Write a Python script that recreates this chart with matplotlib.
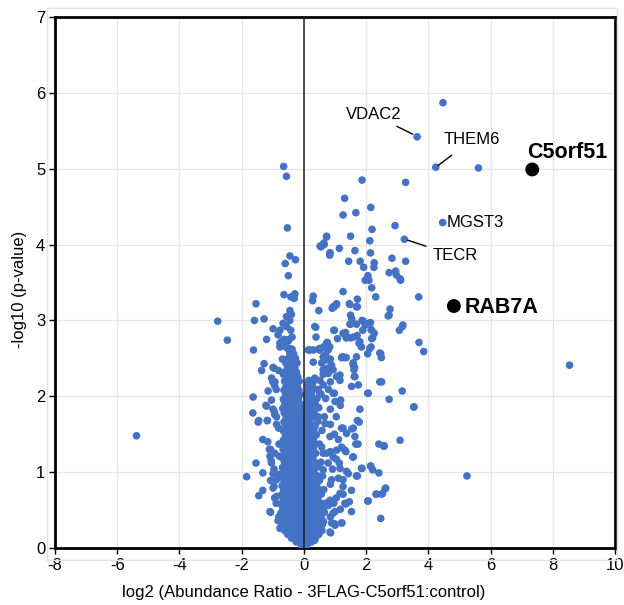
import matplotlib
matplotlib.use("Agg")
import matplotlib.pyplot as plt
from matplotlib.patches import Rectangle

plt.rcParams['font.family'] = ['Liberation Sans', 'DejaVu Sans']
plt.rcParams['axes.unicode_minus'] = False

# --- data (log2 ratio, -log10 p) ---

# isolated points away from the central cloud
outliers = [
    (4.47, 5.87), (3.64, 5.42), (4.24, 5.02), (5.61, 5.01), (3.27, 4.82), (1.87, 4.85),
    (1.31, 4.61), (2.15, 4.49), (1.26, 4.39), (1.67, 4.42), (4.46, 4.29), (2.93, 4.25),
    (2.19, 4.20), (3.23, 4.07), (0.73, 4.11), (1.50, 4.11), (2.12, 4.05), (0.64, 4.02),
    (0.52, 3.98), (1.14, 3.95), (0.84, 3.89), (0.83, 3.86), (1.64, 3.92), (2.14, 3.89),
    (2.83, 3.82), (3.27, 3.78), (1.44, 3.78), (1.81, 3.78), (2.26, 3.76), (2.25, 3.70),
    (1.92, 3.70), (2.74, 3.63), (2.95, 3.65), (2.97, 3.60), (3.09, 3.55), (3.11, 3.53),
    (2.06, 3.59), (1.97, 3.53), (2.09, 3.53), (2.18, 3.43), (1.26, 3.38), (2.31, 3.31),
    (0.30, 3.32), (0.28, 3.26), (3.69, 3.31), (1.46, 3.22), (1.72, 3.28), (1.72, 3.18),
    (1.05, 3.22), (0.98, 3.18), (0.91, 3.16), (0.48, 3.13), (2.77, 3.15), (2.74, 3.07),
    (3.18, 2.94), (3.07, 2.87), (1.54, 3.02), (1.48, 2.95), (1.87, 3.00), (2.13, 2.97),
    (1.97, 2.94), (0.38, 2.91), (2.16, 2.88), (2.26, 2.83), (2.21, 2.77), (0.98, 2.87),
    (1.08, 2.76), (1.34, 2.84), (1.36, 2.77), (1.50, 2.77), (1.71, 2.80), (1.77, 2.70),
    (3.70, 2.71), (3.85, 2.59), (2.47, 2.56), (2.49, 2.51), (2.16, 2.65), (2.05, 2.56),
    (8.54, 2.41), (1.58, 2.44), (1.63, 2.38), (1.62, 2.26), (1.21, 2.51), (1.29, 2.51),
    (1.36, 2.51), (2.50, 2.19), (2.05, 2.04), (3.16, 2.07), (2.74, 1.96), (3.53, 1.86),
    (1.80, 1.83), (1.72, 1.68), (1.54, 1.57), (1.21, 1.58), (3.09, 1.42), (2.41, 1.37),
    (2.58, 1.35), (1.74, 1.37), (5.24, 0.95), (1.87, 1.05), (1.72, 0.95), (2.15, 1.08),
    (2.21, 1.03), (2.41, 0.99), (2.61, 0.78), (2.50, 0.71), (2.33, 0.71), (2.05, 0.62),
    (2.47, 0.39), (1.53, 0.48), (1.22, 0.33), (0.99, 0.32),
    (-5.38, 1.48), (-2.77, 2.99), (-2.46, 2.74), (-1.84, 0.94), (-1.54, 3.22), (-1.59, 3.00),
    (-1.28, 3.02), (-1.62, 2.61), (-1.20, 2.75), (-0.65, 5.03), (-0.56, 4.90), (-0.53, 4.22),
    (-0.45, 3.85), (-0.27, 3.80), (-0.60, 3.75), (-0.50, 3.59), (-0.64, 3.34), (-0.42, 3.31),
    (-0.29, 3.35), (-0.31, 3.29),
]

# points around the edges of the left lobe
left_scatter = [
    (-1.28, 2.43), (-1.36, 2.34), (-0.99, 2.38), (-1.00, 2.19), (-0.94, 2.14), (-0.89, 2.09),
    (-1.22, 1.88), (-1.63, 1.99), (-0.99, 1.83), (-0.94, 1.76), (-1.64, 1.78), (-1.45, 1.68),
    (-1.17, 1.68), (-0.88, 1.63), (-0.81, 1.58), (-1.32, 1.43), (-1.16, 1.40), (-1.07, 1.30),
    (-0.94, 1.25), (-1.54, 1.12), (-1.05, 1.15), (-0.96, 1.04), (-1.32, 0.99), (-0.81, 0.97),
    (-1.07, 0.89), (-0.96, 0.81), (-1.32, 0.76), (-1.45, 0.69), (-0.94, 0.66), (-0.89, 0.59),
    (-1.07, 0.47), (-0.81, 0.41), (-0.66, 0.31), (-0.83, 0.36), (-0.77, 0.26), (-1.09, 0.48),
    (-0.88, 0.68), (-0.99, 0.79), (-0.88, 0.90), (-0.99, 0.98), (-1.04, 1.12), (-0.79, 1.21),
    (-1.09, 1.21), (-1.11, 1.30), (-0.80, 1.37), (-0.88, 1.73), (-0.95, 1.80), (-1.18, 1.68),
    (-1.47, 1.66), (-1.20, 1.87), (-1.04, 1.95), (-1.15, 2.07), (-0.93, 2.19), (-1.04, 2.24),
    (-0.96, 2.37),
    (-0.45, 3.13), (-0.40, 3.08), (-0.56, 3.05), (-0.45, 3.00), (-0.67, 2.96), (-0.77, 2.87),
    (-0.56, 2.92), (-0.42, 2.87), (-0.99, 2.89), (-0.83, 2.81), (-0.72, 2.72), (-0.50, 2.73),
    (-0.38, 2.78), (-0.77, 2.65), (-0.45, 2.63), (-0.77, 2.70), (-0.58, 2.65), (-0.40, 2.59),
    (-0.69, 2.49), (-0.49, 2.44), (-0.39, 2.39), (-0.81, 2.34), (-0.66, 2.29), (-0.63, 2.75),
    (-0.48, 2.75),
]

# points around the edges of the right lobe
right_scatter = [
    (0.73, 4.10), (0.55, 3.97), (0.65, 4.00), (0.84, 3.89), (0.35, 2.92), (0.39, 2.78),
    (0.94, 3.18), (1.05, 3.21), (1.48, 3.21), (1.69, 3.18), (1.50, 3.07), (1.50, 2.95),
    (1.69, 2.95), (1.91, 2.99), (2.14, 2.97), (2.18, 2.87), (1.89, 2.87), (0.96, 2.87),
    (1.26, 2.83), (1.37, 2.78), (1.59, 2.78), (1.80, 2.72), (1.85, 2.65), (2.12, 2.63),
    (2.18, 2.76), (0.14, 2.61), (0.30, 2.61), (0.51, 2.63), (0.73, 2.70), (0.78, 2.61),
    (0.62, 2.52), (0.73, 2.48), (1.26, 2.52), (1.69, 2.52), (1.59, 2.43), (0.94, 2.35),
    (1.05, 2.26), (1.16, 2.21), (1.61, 2.35), (1.64, 2.26), (2.44, 2.57), (2.71, 3.06),
    (3.17, 2.92), (2.44, 2.19), (3.54, 1.86), (1.78, 1.66), (1.59, 1.58), (1.26, 1.58),
    (1.64, 1.47), (1.67, 1.37), (2.57, 1.34), (1.35, 1.27), (1.59, 1.20), (1.14, 1.12),
    (1.37, 1.01), (1.85, 1.05), (2.14, 1.08), (1.69, 0.95), (1.26, 0.90), (1.53, 0.76),
    (1.26, 0.71), (1.46, 0.61), (1.35, 0.58), (0.96, 0.59), (1.00, 0.48), (1.21, 0.33),
    (0.89, 0.33), (0.84, 0.21), (2.63, 0.79), (2.53, 0.72), (2.32, 0.71), (2.07, 0.62),
    (2.07, 2.04), (1.59, 2.41), (1.53, 2.13), (1.75, 2.15), (0.94, 2.04), (1.00, 1.93),
    (1.18, 1.95), (1.37, 1.51), (1.21, 1.33), (1.05, 1.29), (1.32, 1.29), (1.57, 1.20),
    (0.94, 1.20), (0.78, 1.12), (1.16, 1.05), (1.43, 0.98), (1.26, 0.81), (1.16, 0.72),
    (1.32, 0.59), (0.94, 0.46), (1.00, 0.30), (0.86, 0.20), (0.30, 2.45), (0.19, 2.61),
    (0.51, 2.61), (0.78, 2.67), (0.68, 2.50), (0.89, 2.41), (0.62, 2.35), (0.35, 2.24),
    (0.78, 2.30), (1.16, 2.28), (1.24, 2.52), (0.51, 2.04), (0.46, 1.73), (0.68, 1.64),
    (0.84, 1.47), (0.57, 1.33), (0.73, 1.25), (0.62, 1.03), (0.89, 0.90), (0.51, 0.76),
    (0.84, 0.63), (0.62, 0.50), (0.47, 0.20), (0.34, 0.10), (0.60, 0.31), (0.85, 0.41),
    (1.17, 0.51), (0.79, 0.56), (1.04, 0.66), (0.85, 0.84), (1.11, 0.92), (0.92, 1.04),
    (1.04, 1.17), (0.85, 1.27), (1.23, 1.32), (1.11, 1.43), (0.98, 1.50), (0.85, 1.63),
    (1.04, 1.73), (0.85, 1.83), (1.17, 1.88), (0.98, 2.04), (0.79, 2.09), (0.85, 2.19),
    (0.62, 2.29), (0.75, 2.37), (0.57, 2.44), (0.85, 2.49), (0.70, 2.55), (0.83, 2.65),
    (0.75, 2.71), (0.63, 2.65), (0.47, 2.62),
]

# dense core, one row per -log10 p level: (y, [x values])
left_core = [
    (0.03, [-0.08, -0.02]),
    (0.08, [-0.25, -0.15, -0.05]),
    (0.13, [-0.40, -0.29, -0.18, -0.07]),
    (0.18, [-0.52, -0.40, -0.28, -0.16, -0.05]),
    (0.23, [-0.62, -0.50, -0.38, -0.26, -0.14, -0.04]),
    (0.28, [-0.68, -0.55, -0.43, -0.31, -0.19, -0.07]),
    (0.34, [-0.72, -0.60, -0.48, -0.36, -0.24, -0.12, -0.03]),
    (0.40, [-0.66, -0.54, -0.42, -0.30, -0.18, -0.06]),
    (0.46, [-0.74, -0.61, -0.49, -0.37, -0.25, -0.13, -0.03]),
    (0.52, [-0.68, -0.55, -0.43, -0.31, -0.19, -0.07]),
    (0.58, [-0.73, -0.60, -0.48, -0.36, -0.24, -0.12, -0.03]),
    (0.64, [-0.66, -0.54, -0.42, -0.30, -0.18, -0.06]),
    (0.70, [-0.72, -0.60, -0.48, -0.36, -0.24, -0.12, -0.03]),
    (0.76, [-0.65, -0.53, -0.41, -0.29, -0.17, -0.06]),
    (0.82, [-0.70, -0.58, -0.46, -0.34, -0.22, -0.10, -0.03]),
    (0.88, [-0.64, -0.52, -0.40, -0.28, -0.16, -0.05]),
    (0.94, [-0.70, -0.58, -0.46, -0.34, -0.22, -0.10, -0.03]),
    (1.00, [-0.64, -0.52, -0.40, -0.28, -0.16, -0.05]),
    (1.06, [-0.69, -0.57, -0.45, -0.33, -0.21, -0.09]),
    (1.12, [-0.62, -0.50, -0.38, -0.26, -0.14, -0.04]),
    (1.18, [-0.68, -0.56, -0.44, -0.32, -0.20, -0.08]),
    (1.24, [-0.61, -0.49, -0.37, -0.25, -0.13, -0.04]),
    (1.30, [-0.67, -0.55, -0.43, -0.31, -0.19, -0.07]),
    (1.36, [-0.60, -0.48, -0.36, -0.24, -0.12, -0.04]),
    (1.42, [-0.66, -0.54, -0.42, -0.30, -0.18, -0.06]),
    (1.48, [-0.59, -0.47, -0.35, -0.23, -0.11]),
    (1.54, [-0.65, -0.53, -0.41, -0.29, -0.17, -0.06]),
    (1.60, [-0.58, -0.46, -0.34, -0.22, -0.10]),
    (1.66, [-0.64, -0.52, -0.40, -0.28, -0.16, -0.07]),
    (1.72, [-0.57, -0.45, -0.33, -0.21, -0.10]),
    (1.78, [-0.63, -0.51, -0.39, -0.27, -0.15]),
    (1.84, [-0.68, -0.56, -0.44, -0.32, -0.20, -0.09]),
    (1.90, [-0.61, -0.49, -0.37, -0.25, -0.13]),
    (1.96, [-0.66, -0.54, -0.42, -0.30, -0.18]),
    (2.02, [-0.59, -0.47, -0.35, -0.23, -0.12]),
    (2.08, [-0.64, -0.52, -0.40, -0.28, -0.16]),
    (2.14, [-0.57, -0.45, -0.33, -0.21]),
    (2.20, [-0.62, -0.50, -0.38, -0.26, -0.15]),
    (2.26, [-0.55, -0.43, -0.31, -0.20]),
    (2.32, [-0.60, -0.48, -0.36, -0.24]),
    (2.38, [-0.53, -0.41, -0.29]),
    (2.44, [-0.58, -0.46, -0.34, -0.22]),
    (2.50, [-0.50, -0.38, -0.27]),
    (2.56, [-0.45, -0.33]),
    (2.62, [-0.50, -0.38]),
]

right_core = [
    (0.03, [0.03, 0.10]),
    (0.08, [0.04, 0.14, 0.24]),
    (0.13, [0.04, 0.15, 0.26, 0.37]),
    (0.18, [0.05, 0.16, 0.27, 0.38, 0.48]),
    (0.23, [0.04, 0.15, 0.26, 0.37, 0.49, 0.58]),
    (0.29, [0.06, 0.17, 0.28, 0.40, 0.52]),
    (0.35, [0.05, 0.16, 0.27, 0.38, 0.50, 0.63]),
    (0.41, [0.06, 0.18, 0.30, 0.42, 0.55]),
    (0.47, [0.05, 0.16, 0.28, 0.40, 0.52, 0.66]),
    (0.53, [0.07, 0.19, 0.31, 0.44, 0.58]),
    (0.59, [0.05, 0.17, 0.29, 0.41, 0.54, 0.70]),
    (0.65, [0.07, 0.19, 0.31, 0.45]),
    (0.71, [0.05, 0.16, 0.28, 0.40, 0.56]),
    (0.77, [0.07, 0.19, 0.32, 0.47, 0.64]),
    (0.83, [0.05, 0.17, 0.29, 0.41]),
    (0.89, [0.07, 0.19, 0.33, 0.50]),
    (0.95, [0.05, 0.17, 0.29, 0.43, 0.60]),
    (1.01, [0.07, 0.19, 0.32]),
    (1.07, [0.05, 0.17, 0.30, 0.46]),
    (1.13, [0.07, 0.20, 0.35, 0.55]),
    (1.19, [0.05, 0.17, 0.29]),
    (1.25, [0.08, 0.21, 0.38, 0.62]),
    (1.31, [0.05, 0.17, 0.30]),
    (1.37, [0.08, 0.21, 0.36, 0.50]),
    (1.43, [0.06, 0.18, 0.30]),
    (1.49, [0.08, 0.22, 0.40]),
    (1.55, [0.06, 0.18, 0.32, 0.58]),
    (1.61, [0.09, 0.22, 0.36]),
    (1.67, [0.07, 0.20, 0.45]),
    (1.73, [0.10, 0.24, 0.38, 0.66]),
    (1.79, [0.08, 0.20, 0.33]),
    (1.85, [0.11, 0.25, 0.48]),
    (1.91, [0.09, 0.22, 0.36]),
    (1.97, [0.12, 0.26, 0.42, 0.70]),
    (2.03, [0.10, 0.24, 0.55]),
    (2.09, [0.14, 0.30, 0.46]),
    (2.15, [0.12, 0.27, 0.62]),
    (2.21, [0.16, 0.34, 0.52]),
]

# highlighted bait / hit proteins
hit_names = ['C5orf51', 'RAB7A']
hit_x = [7.34, 4.82]
hit_y = [4.99, 3.19]

# labelled proteins: name, point, text position
label_names = ['VDAC2', 'THEM6', 'MGST3', 'TECR']
label_pts = [(3.62, 5.43), (4.24, 5.02), (4.46, 4.29), (3.25, 4.07)]
label_txt = [(3.14, 5.71), (4.50, 5.38), (4.58, 4.29), (4.14, 3.85)]

xs, ys = [], []
for x, y in outliers + left_scatter + right_scatter:
    xs.append(x)
    ys.append(y)
for y, row in left_core + right_core:
    for x in row:
        xs.append(x)
        ys.append(y)

fig = plt.figure(figsize=(6.24, 6.05), dpi=100)
ax = fig.add_axes([55 / 624, 57 / 605, 560 / 624, 531 / 605])

# faint outer box around the plot area
fig.patches.append(Rectangle((47 / 624, 45 / 605), 570 / 624, 552 / 605,
                             transform=fig.transFigure, fill=False,
                             edgecolor='#e2e2e2', lw=1.0, zorder=0))

ax.scatter(xs, ys, s=30, color='#4472C4', edgecolors='none', zorder=3)
ax.scatter(hit_x, hit_y, s=100, color='black', edgecolors='none', zorder=4)
ax.axvline(0, color='#222222', lw=1.1, zorder=5)

# labels with leader lines
ax.annotate(label_names[0], xy=label_pts[0], xytext=label_txt[0], ha='right', va='center',
            fontsize=12, arrowprops=dict(arrowstyle='-', color='black', lw=1.0,
                                         shrinkA=2, shrinkB=3))
ax.annotate(label_names[1], xy=label_pts[1], xytext=label_txt[1], ha='left', va='center',
            fontsize=12, arrowprops=dict(arrowstyle='-', color='black', lw=1.0,
                                         shrinkA=6, shrinkB=2))
ax.text(label_txt[2][0], label_txt[2][1], label_names[2], ha='left', va='center', fontsize=12)
ax.annotate(label_names[3], xy=label_pts[3], xytext=label_txt[3], ha='left', va='center',
            fontsize=12, arrowprops=dict(arrowstyle='-', color='black', lw=1.0,
                                         shrinkA=3, shrinkB=2))

ax.text(7.16, 5.22, hit_names[0], ha='left', va='center', fontsize=15.5, fontweight='bold')
ax.text(5.18, 3.17, hit_names[1], ha='left', va='center', fontsize=15.5, fontweight='bold')

ax.set_xlim(-8, 10)
ax.set_ylim(0, 7)
ax.set_xticks(range(-8, 11, 2))
ax.set_yticks(range(0, 8))
ax.grid(True, color='#e6e6e6', lw=0.9, zorder=0)
ax.set_axisbelow(True)
for sp in ax.spines.values():
    sp.set_linewidth(2.0)
    sp.set_color('black')
ax.tick_params(direction='out', length=4, width=1, labelsize=12, pad=3)

fig.text(304 / 624, 13 / 605, 'log2 (Abundance Ratio - 3FLAG-C5orf51:control)',
         ha='center', va='center', fontsize=12)
fig.text(20 / 624, 316 / 605, '-log10 (p-value)', ha='center', va='center',
         rotation=90, fontsize=12)

fig.savefig('out.png', dpi=100)
